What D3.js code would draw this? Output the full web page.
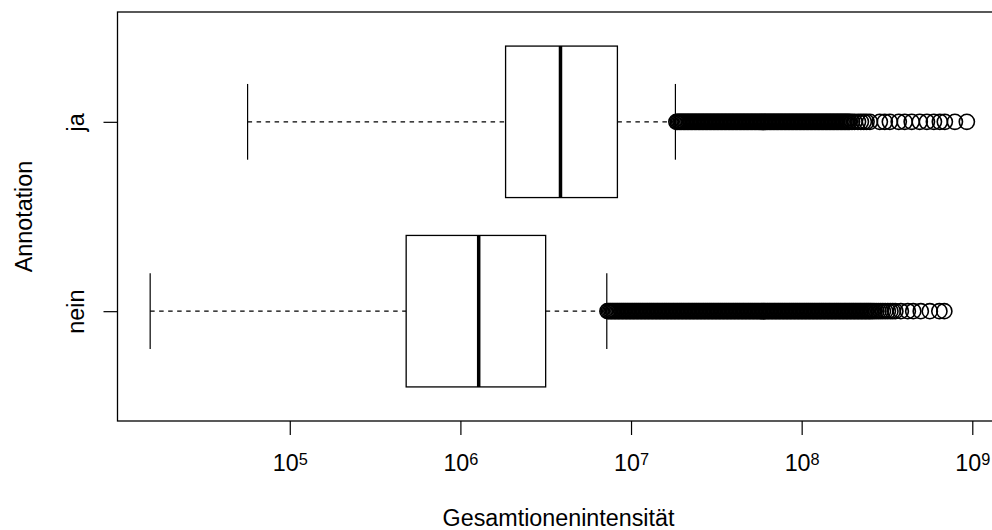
<!DOCTYPE html>
<html>
<head>
<meta charset="utf-8">
<script src="https://cdn.jsdelivr.net/npm/d3@7"></script>
<style>
  body { margin: 0; background: #fff; }
  svg text { font-family: "Liberation Sans", Arial, Helvetica, sans-serif; fill: #000; }
</style>
</head>
<body>
<svg id="chart" width="992" height="530"></svg>
<script>
// Kategorien (von unten nach oben)
const categories = ["nein", "ja"];

// Fünf-Punkte-Zusammenfassung: unterer Whisker, Q1, Median, Q3, oberer Whisker
const statsNein = [1.52e4, 4.81e5, 1.28e6, 3.16e6, 7.21e6];
const statsJa = [5.66e4, 1.84e6, 3.86e6, 8.32e6, 1.82e7];

// Ausreißer als log10(Gesamtionenintensität)
const outliersNeinLog = [
  6.862, 6.870, 6.878, 6.886, 6.894, 6.902, 6.910, 6.918, 6.926, 6.934,
  6.942, 6.950, 6.958, 6.966, 6.974, 6.982, 6.990, 6.998, 7.006, 7.014,
  7.022, 7.030, 7.038, 7.046, 7.054, 7.062, 7.070, 7.078, 7.086, 7.094,
  7.102, 7.110, 7.118, 7.126, 7.134, 7.142, 7.150, 7.158, 7.166, 7.174,
  7.182, 7.190, 7.198, 7.206, 7.214, 7.222, 7.230, 7.238, 7.246, 7.254,
  7.262, 7.270, 7.278, 7.286, 7.294, 7.302, 7.310, 7.318, 7.326, 7.334,
  7.342, 7.350, 7.358, 7.366, 7.374, 7.382, 7.390, 7.398, 7.406, 7.414,
  7.422, 7.430, 7.438, 7.446, 7.454, 7.462, 7.470, 7.478, 7.486, 7.494,
  7.502, 7.510, 7.518, 7.526, 7.534, 7.542, 7.550, 7.558, 7.566, 7.574,
  7.582, 7.590, 7.598, 7.606, 7.614, 7.622, 7.630, 7.638, 7.646, 7.654,
  7.662, 7.670, 7.678, 7.686, 7.694, 7.702, 7.710, 7.718, 7.726, 7.734,
  7.742, 7.750, 7.758, 7.766, 7.774, 7.782, 7.790, 7.798, 7.806, 7.814,
  7.822, 7.830, 7.838, 7.846, 7.854, 7.862, 7.870, 7.878, 7.886, 7.894,
  7.902, 7.910, 7.918, 7.926, 7.934, 7.942, 7.950, 7.958, 7.966, 7.974,
  7.982, 7.990, 7.998, 8.006, 8.014, 8.022, 8.030, 8.038, 8.046, 8.054,
  8.062, 8.070, 8.078, 8.086, 8.094, 8.102, 8.110, 8.118, 8.126, 8.134,
  8.142, 8.150, 8.158, 8.166, 8.174, 8.182, 8.190, 8.198, 8.206, 8.214,
  8.222, 8.230, 8.238, 8.246, 8.254, 8.262, 8.270, 8.278, 8.286, 8.294,
  8.302, 8.310, 8.318, 8.326, 8.334, 8.342, 8.350, 8.358, 8.366, 8.374,
  8.382, 8.390, 8.398, 8.406, 8.415, 8.425, 8.437, 8.450, 8.463, 8.476,
  8.490, 8.505, 8.520, 8.534, 8.549, 8.581, 8.622, 8.654, 8.698, 8.751,
  8.807, 8.836
];
const outliersJaLog = [
  7.266, 7.274, 7.282, 7.290, 7.298, 7.306, 7.314, 7.322, 7.330, 7.338,
  7.346, 7.354, 7.362, 7.370, 7.378, 7.386, 7.394, 7.402, 7.410, 7.418,
  7.426, 7.434, 7.442, 7.450, 7.458, 7.466, 7.474, 7.482, 7.490, 7.498,
  7.506, 7.514, 7.522, 7.530, 7.538, 7.546, 7.554, 7.562, 7.570, 7.578,
  7.586, 7.594, 7.602, 7.610, 7.618, 7.626, 7.634, 7.642, 7.650, 7.658,
  7.666, 7.674, 7.682, 7.690, 7.698, 7.706, 7.714, 7.722, 7.730, 7.738,
  7.746, 7.754, 7.762, 7.770, 7.778, 7.786, 7.794, 7.802, 7.810, 7.818,
  7.826, 7.834, 7.842, 7.850, 7.858, 7.866, 7.874, 7.882, 7.890, 7.898,
  7.906, 7.914, 7.922, 7.930, 7.938, 7.946, 7.954, 7.962, 7.970, 7.978,
  7.986, 7.994, 8.002, 8.010, 8.018, 8.026, 8.034, 8.042, 8.050, 8.058,
  8.066, 8.074, 8.082, 8.090, 8.098, 8.106, 8.114, 8.122, 8.130, 8.138,
  8.146, 8.154, 8.162, 8.170, 8.178, 8.186, 8.194, 8.202, 8.210, 8.218,
  8.226, 8.234, 8.242, 8.250, 8.258, 8.266, 8.274, 8.282, 8.295, 8.310,
  8.330, 8.347, 8.364, 8.380, 8.400, 8.458, 8.487, 8.517, 8.569, 8.604,
  8.645, 8.692, 8.734, 8.775, 8.810, 8.839, 8.898, 8.968
];

// Achsenbeschriftung: Zehnerpotenzen
const tickExponents = [5, 6, 7, 8, 9];
const xTitle = "Gesamtionenintensität";
const yTitle = "Annotation";

const svg = d3.select("#chart");
const plot = { left: 117.5, right: 999.5, top: 12, bottom: 421 };
const fontSize = 23.3;

const gruppen = [
  { name: categories[0], pos: 1, stats: statsNein, out: outliersNeinLog.map(e => Math.pow(10, e)) },
  { name: categories[1], pos: 2, stats: statsJa, out: outliersJaLog.map(e => Math.pow(10, e)) }
];

// Wertebereich wie in R: Datenbereich plus 4 %
const alleWerte = gruppen.flatMap(g => g.stats.concat(g.out)).map(Math.log10);
const [lo, hi] = d3.extent(alleWerte);
const pad = (hi - lo) * 0.04;

const x = d3.scaleLog()
  .domain([Math.pow(10, lo - pad), Math.pow(10, hi + pad)])
  .range([plot.left, plot.right]);

const yPad = categories.length * 0.04;
const y = d3.scaleLinear()
  .domain([0.5 - yPad, categories.length + 0.5 + yPad])
  .range([plot.bottom, plot.top]);

const boxHalb = 0.4;
const stapleHalb = 0.2;

const marks = svg.append("g");

gruppen.forEach(g => {
  const [lw, q1, med, q3, uw] = g.stats;
  const yc = y(g.pos);

  // Whisker (gestrichelt)
  marks.append("line")
    .attr("x1", x(lw)).attr("x2", x(q1))
    .attr("y1", yc).attr("y2", yc)
    .attr("stroke", "#000").attr("stroke-width", 1.2)
    .attr("stroke-dasharray", "4.5,4.5");
  marks.append("line")
    .attr("x1", x(q3)).attr("x2", x(uw))
    .attr("y1", yc).attr("y2", yc)
    .attr("stroke", "#000").attr("stroke-width", 1.2)
    .attr("stroke-dasharray", "4.5,4.5");

  // Staples
  [lw, uw].forEach(v => {
    marks.append("line")
      .attr("x1", x(v)).attr("x2", x(v))
      .attr("y1", y(g.pos - stapleHalb)).attr("y2", y(g.pos + stapleHalb))
      .attr("stroke", "#000").attr("stroke-width", 1.2);
  });

  // Box
  marks.append("rect")
    .attr("x", x(q1))
    .attr("y", y(g.pos + boxHalb))
    .attr("width", x(q3) - x(q1))
    .attr("height", y(g.pos - boxHalb) - y(g.pos + boxHalb))
    .attr("fill", "#fff")
    .attr("stroke", "#000").attr("stroke-width", 1.3);

  // Median
  marks.append("line")
    .attr("x1", x(med)).attr("x2", x(med))
    .attr("y1", y(g.pos + boxHalb)).attr("y2", y(g.pos - boxHalb))
    .attr("stroke", "#000").attr("stroke-width", 3.5);

  // Ausreißer
  marks.append("g")
    .selectAll("circle")
    .data(g.out)
    .join("circle")
    .attr("cx", d => x(d))
    .attr("cy", yc)
    .attr("r", 7.6)
    .attr("fill", "none")
    .attr("stroke", "#000")
    .attr("stroke-width", 1.6);
});

// x-Achse
const xAxis = svg.append("g")
  .attr("transform", `translate(0,${plot.bottom})`)
  .call(d3.axisBottom(x)
    .tickValues(tickExponents.map(e => Math.pow(10, e)))
    .tickSize(14)
    .tickFormat(""));
xAxis.select(".domain").remove();
xAxis.selectAll(".tick line").attr("stroke-width", 1.2);
xAxis.selectAll(".tick text").each(function (d) {
  const t = d3.select(this)
    .attr("y", 50)
    .attr("dy", null)
    .attr("font-size", fontSize)
    .attr("text-anchor", "middle")
    .text(null);
  t.append("tspan").text("10");
  t.append("tspan")
    .attr("font-size", fontSize * 0.7)
    .attr("dy", -6)
    .text(Math.round(Math.log10(d)));
});

// y-Achse
const yAxis = svg.append("g")
  .attr("transform", `translate(${plot.left},0)`)
  .call(d3.axisLeft(y)
    .tickValues(categories.map((c, i) => i + 1))
    .tickSize(14)
    .tickFormat(i => categories[i - 1]));
yAxis.select(".domain").remove();
yAxis.selectAll(".tick line").attr("stroke-width", 1.2);
yAxis.selectAll(".tick text")
  .attr("font-size", fontSize)
  .attr("text-anchor", "middle")
  .attr("transform", "rotate(-90)")
  .attr("x", 0)
  .attr("y", -34)
  .attr("dy", null);

// Rahmen
svg.append("rect")
  .attr("x", plot.left).attr("y", plot.top)
  .attr("width", plot.right - plot.left)
  .attr("height", plot.bottom - plot.top)
  .attr("fill", "none")
  .attr("stroke", "#000").attr("stroke-width", 1.3);

// Achsentitel
svg.append("text")
  .attr("x", (plot.left + plot.right) / 2)
  .attr("y", 526)
  .attr("text-anchor", "middle")
  .attr("font-size", fontSize)
  .text(xTitle);

svg.append("text")
  .attr("transform", `translate(32,${(plot.top + plot.bottom) / 2}) rotate(-90)`)
  .attr("text-anchor", "middle")
  .attr("font-size", fontSize)
  .text(yTitle);
</script>
</body>
</html>
